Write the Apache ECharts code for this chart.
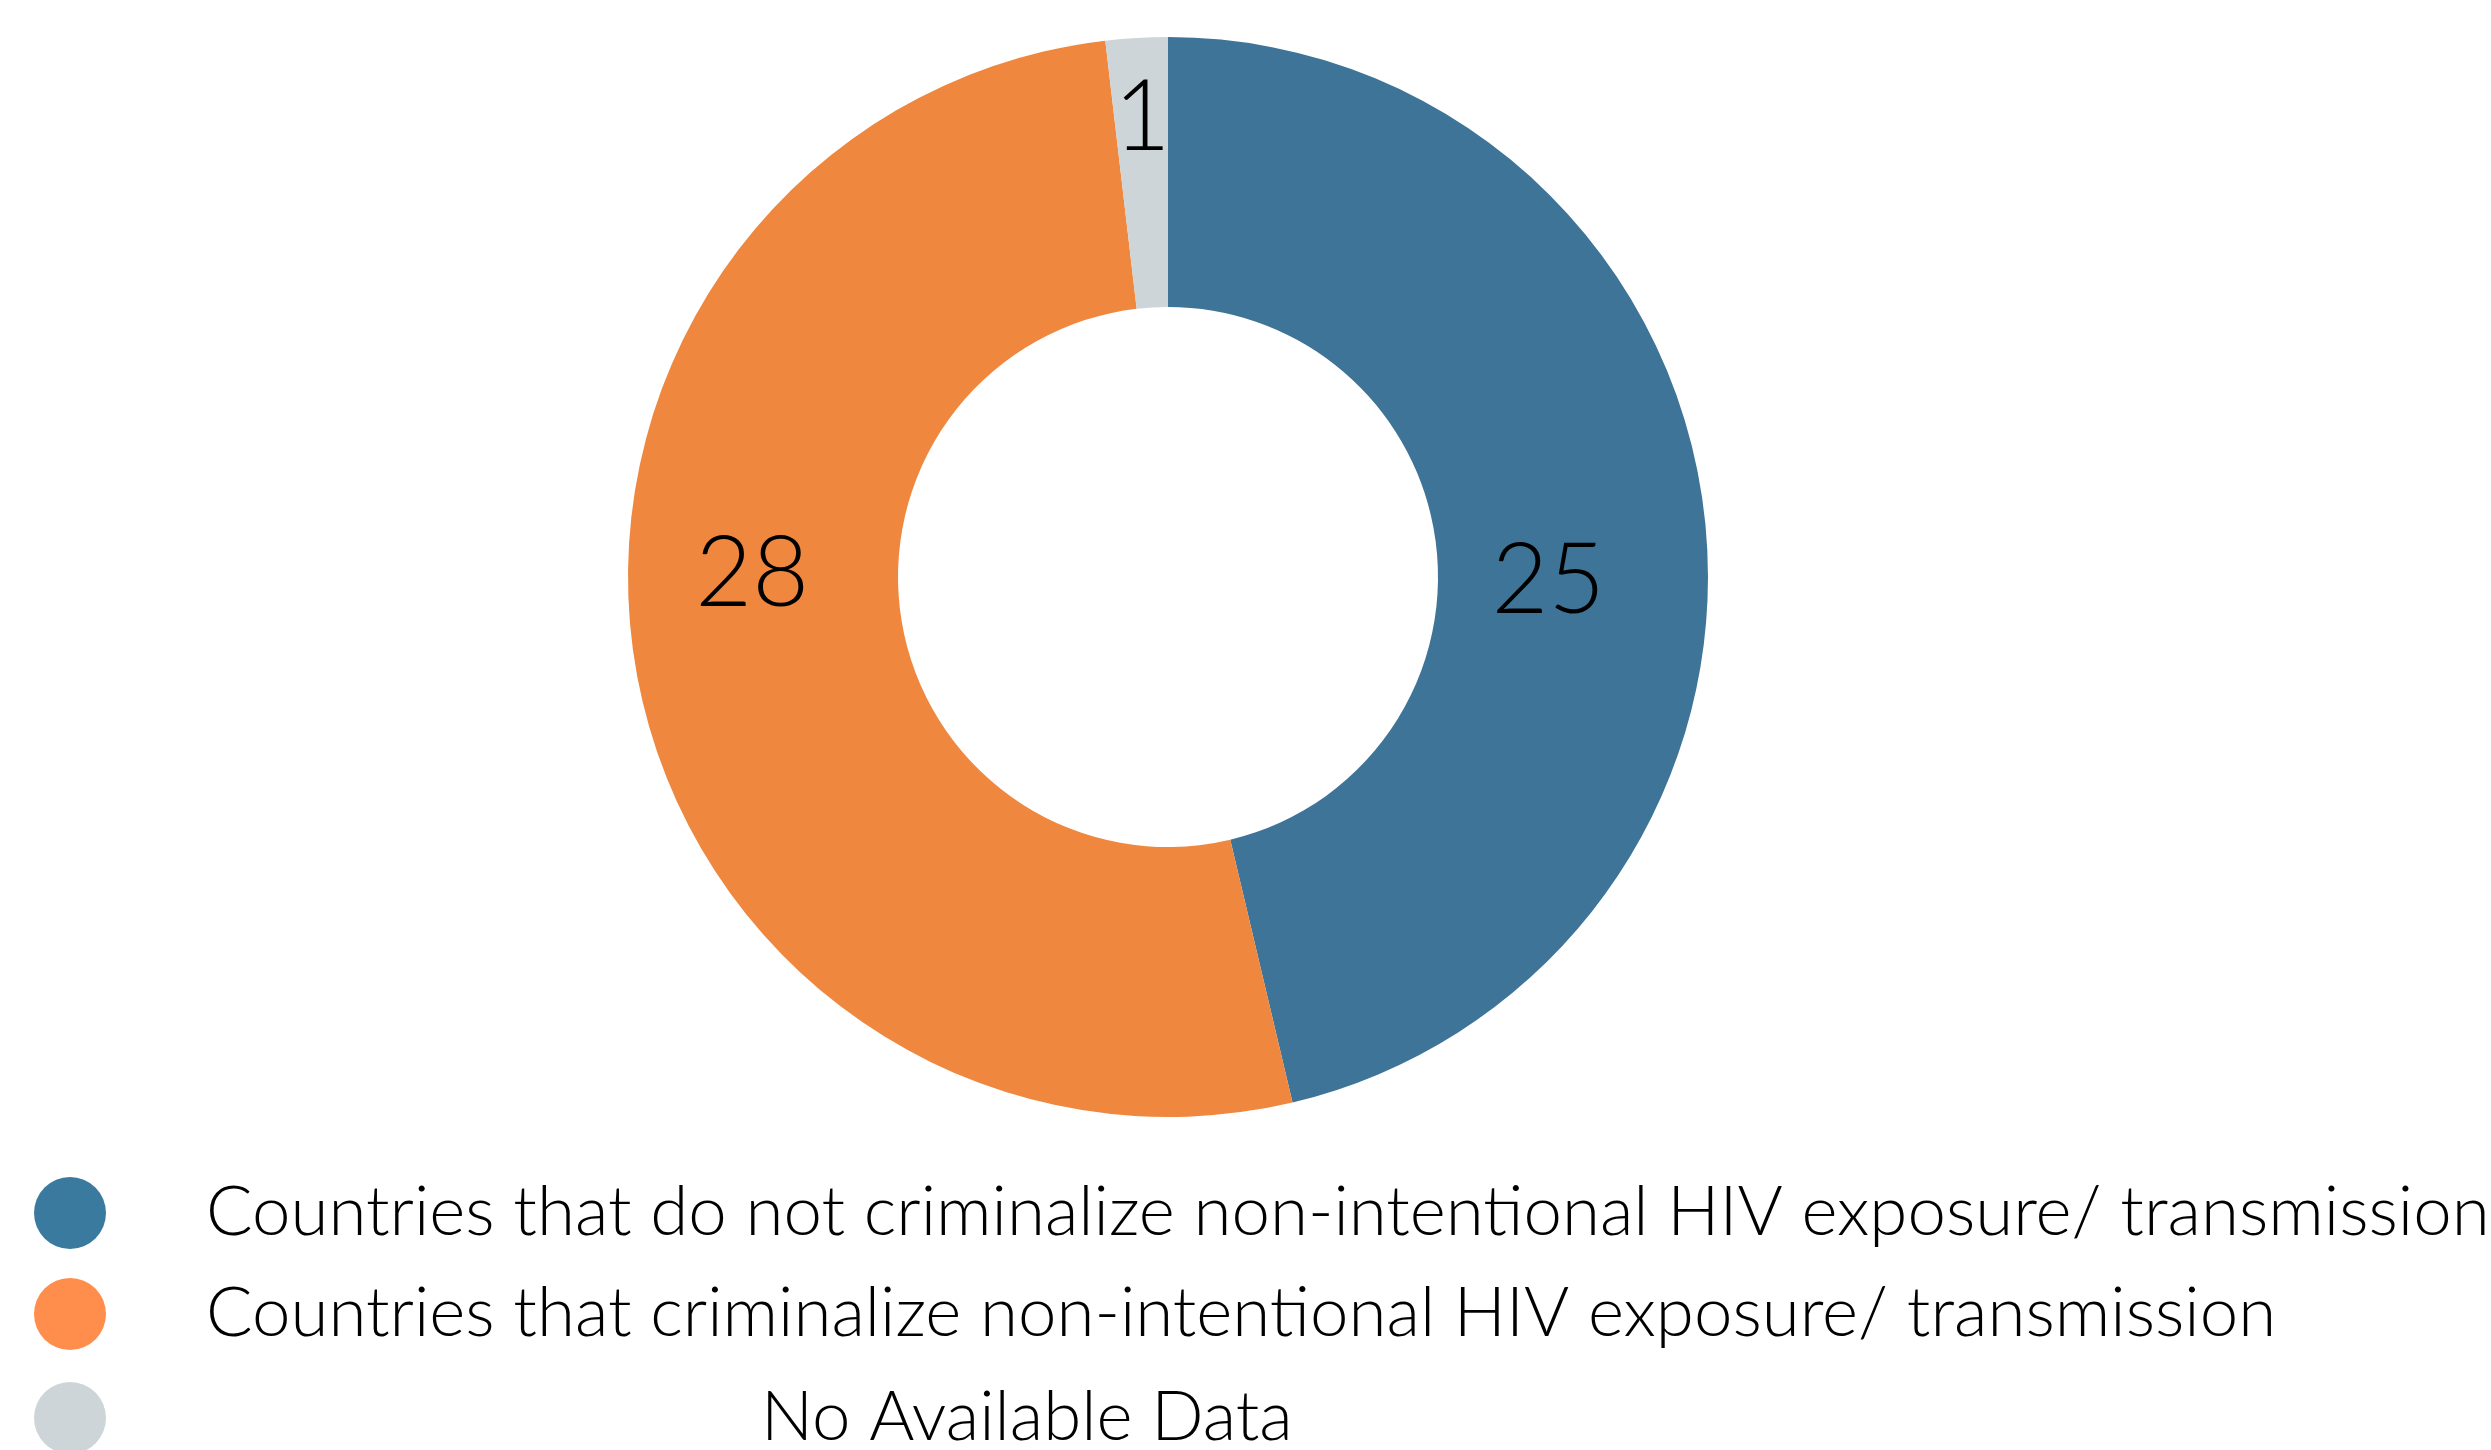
<!DOCTYPE html>
<html>
<head>
<meta charset="utf-8">
<script src="https://cdn.jsdelivr.net/npm/echarts@6/dist/echarts.min.js"></script>
<style>html,body{margin:0;padding:0;background:#fff;}#c{width:2491px;height:1450px;}</style>
</head>
<body>
<div id="c"></div>
<script>
const categories = [
  'Countries that do not criminalize non-intentional HIV exposure/ transmission',
  'Countries that criminalize non-intentional HIV exposure/ transmission',
  'No Available Data'
];
const values = [25, 28, 1];
const sliceColors = ['#3E7498', '#EF873E', '#CDD5D8'];
const legendColors = ['#3A7A9E', '#FF8E4C', '#CDD5D8'];

const labelOffsets = [[-25, 52], [-14, -73], [-2, -51]];
const legendTops = [1172, 1273, 1377];
const legendTextPad = [93, 93, 648];

const chart = echarts.init(document.getElementById('c'), null, {renderer: 'canvas'});
const FONT = 'Lato';
const data = categories.map((n, i) => ({
  name: n,
  value: values[i],
  itemStyle: {color: sliceColors[i]},
  label: {offset: labelOffsets[i]}
}));
chart.setOption({
  animation: false,
  backgroundColor: '#ffffff',
  legend: categories.map((n, i) => ({
    show: true,
    orient: 'vertical',
    left: 29,
    top: legendTops[i],
    data: [{name: n, icon: 'circle', itemStyle: {color: legendColors[i]}}],
    itemWidth: 76,
    itemHeight: 72,
    selectedMode: false,
    textStyle: {
      fontFamily: FONT, fontWeight: 300, fontSize: 69, color: '#000',
      padding: [0, 0, 0, legendTextPad[i]], lineHeight: 72
    }
  })),
  series: [{
    type: 'pie',
    center: [1168, 577],
    radius: [270, 540],
    startAngle: 90,
    clockwise: true,
    avoidLabelOverlap: false,
    label: {
      show: true,
      position: 'inside',
      formatter: '{c}',
      fontFamily: FONT,
      fontWeight: 300,
      fontSize: 98,
      color: '#000'
    },
    labelLine: {show: false},
    emphasis: {disabled: true},
    itemStyle: {borderWidth: 0},
    data: data
  }]
});
</script>
</body>
</html>
